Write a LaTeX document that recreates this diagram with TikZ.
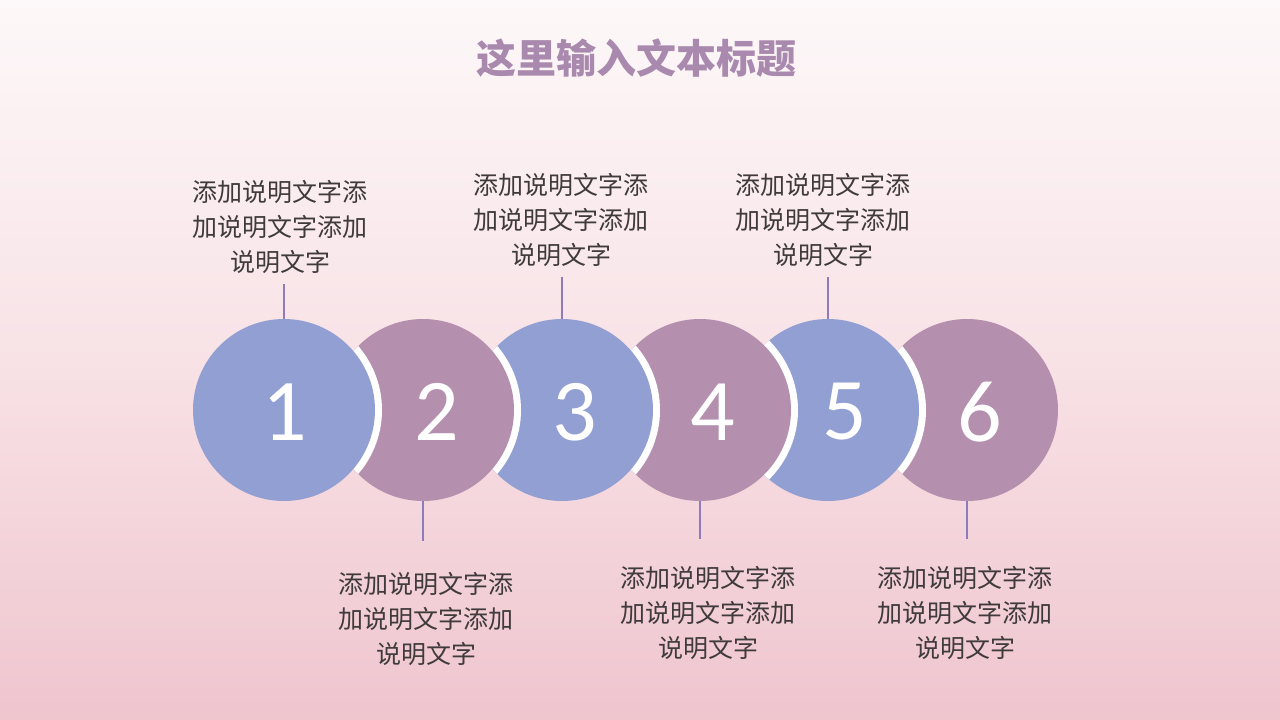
\documentclass[tikz,border=0pt]{standalone}
\usepackage{fontspec}
\setmainfont{Carlito}
\newfontfamily\cjk{Noto Sans CJK SC}
\usetikzlibrary{positioning}

\definecolor{bluedisc}{HTML}{919FD3}
\definecolor{mauvedisc}{HTML}{B48FAE}
\definecolor{stemline}{HTML}{8E7BBE}
\definecolor{bodytext}{HTML}{3F3A3C}
\definecolor{titletext}{HTML}{A98AAE}
\definecolor{bgtop}{HTML}{FDF8F9}
\definecolor{bgmid}{HTML}{F8E2E6}
\definecolor{bgbot}{HTML}{EFC5CE}

\begin{document}
\begin{tikzpicture}[x=1pt,y=-1pt]
    \tikzstyle{disc}=[circle,minimum size=182pt,inner sep=0,outer sep=0]
    \tikzstyle{num}=[text=white,font=\fontsize{88}{88}\selectfont]
    \tikzstyle{note}=[text=bodytext,align=center,inner sep=10pt,font=\cjk\fontsize{25}{35}\selectfont]
    \tikzstyle{stem}=[draw=stemline,line width=2pt]

    % background
    \fill[top color=bgtop,bottom color=bgbot,middle color=bgmid] (0,0) rectangle (1280,720);
    \useasboundingbox (0,0) rectangle (1280,720);

    \node[text=titletext,font=\cjk\bfseries\fontsize{40}{40}\selectfont] (title) at (636,58) {这里输入文本标题};

    \coordinate (p1) at (284,410);
    \coordinate (p2) at (423,410);
    \coordinate (p3) at (562,410);
    \coordinate (p4) at (700,410);
    \coordinate (p5) at (828,410);
    \coordinate (p6) at (967,410);

    % discs, last one first; white gap cut into the disc behind
    \node[disc,fill=mauvedisc] (c6) at (p6) {};
    \begin{scope}
      \clip (c6.center) circle[radius=91];
      \fill[white] (p5) circle[radius=98];
    \end{scope}
    \node[disc,fill=bluedisc]  (c5) at (p5) {};
    \begin{scope}
      \clip (c5.center) circle[radius=91];
      \fill[white] (p4) circle[radius=98];
    \end{scope}
    \node[disc,fill=mauvedisc] (c4) at (p4) {};
    \begin{scope}
      \clip (c4.center) circle[radius=91];
      \fill[white] (p3) circle[radius=98];
    \end{scope}
    \node[disc,fill=bluedisc]  (c3) at (p3) {};
    \begin{scope}
      \clip (c3.center) circle[radius=91];
      \fill[white] (p2) circle[radius=98];
    \end{scope}
    \node[disc,fill=mauvedisc] (c2) at (p2) {};
    \begin{scope}
      \clip (c2.center) circle[radius=91];
      \fill[white] (p1) circle[radius=98];
    \end{scope}
    \node[disc,fill=bluedisc]  (c1) at (p1) {};

    \node[num] (n1) at (285,412) {1};
    \node[num] (n2) at (437,412) {2};
    \node[num] (n3) at (575,412) {3};
    \node[num] (n4) at (713,412) {4};
    \node[num] (n5) at (845,412) {5};
    \node[num] (n6) at (980,412) {6};

    \node[note] (t1) at (280,227) {添加说明文字添\\加说明文字添加\\说明文字};
    \node[note] (t3) at (561,220) {添加说明文字添\\加说明文字添加\\说明文字};
    \node[note] (t5) at (823,220) {添加说明文字添\\加说明文字添加\\说明文字};
    \node[note] (t2) at (426,619) {添加说明文字添\\加说明文字添加\\说明文字};
    \node[note] (t4) at (708,613) {添加说明文字添\\加说明文字添加\\说明文字};
    \node[note] (t6) at (965,613) {添加说明文字添\\加说明文字添加\\说明文字};

    \draw[stem] (c1.north) -- (c1.north |- t1.south);
    \draw[stem] (c3.north) -- (c3.north |- t3.south);
    \draw[stem] (c5.north) -- (c5.north |- t5.south);
    \draw[stem,shorten >=21pt] (c2.south) -- (c2.south |- t2.north);
    \draw[stem,shorten >=17pt] (c4.south) -- (c4.south |- t4.north);
    \draw[stem,shorten >=17pt] (c6.south) -- (c6.south |- t6.north);
\end{tikzpicture}
\end{document}
